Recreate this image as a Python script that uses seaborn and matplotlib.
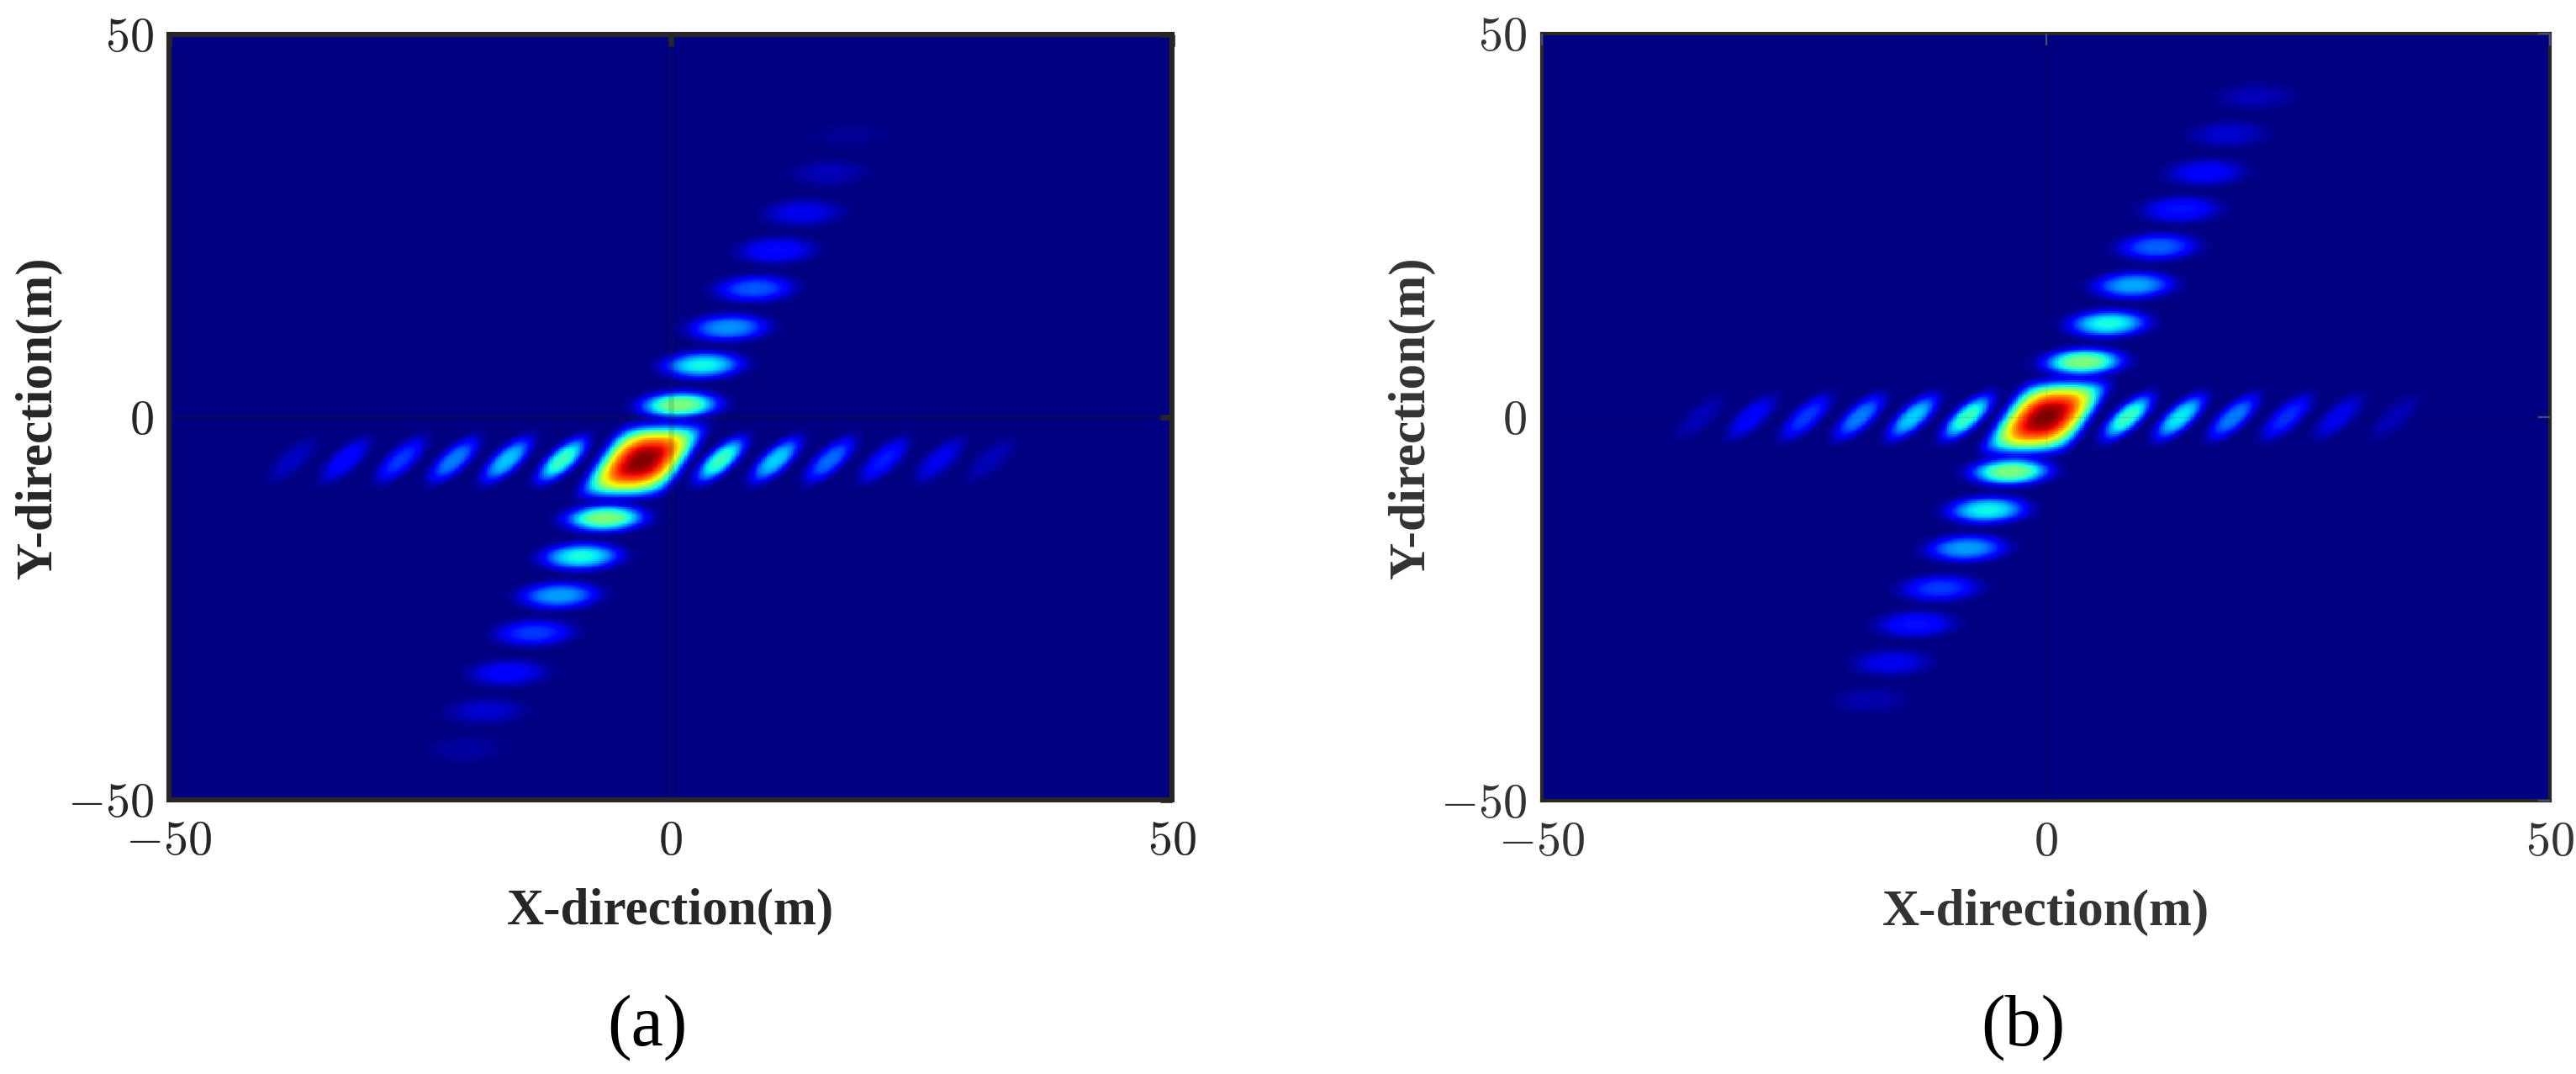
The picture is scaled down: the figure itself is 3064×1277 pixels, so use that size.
import numpy as np
import matplotlib
matplotlib.use("Agg")
import matplotlib.pyplot as plt
import seaborn as sns

# peak positions (m) and peak levels (0-1), one list per group of lobes.
# only the peaks are read values: the smooth shape around each peak is modelled in lobe_field()
tick_values = [-50, 0, 50]
tick_labels = ["$-50$", "$0$", "$50$"]
x_label = "X-direction(m)"
y_label = "Y-direction(m)"

a_main = [-2.8, -5.7, 1.0]
a_row_x = [-37.7, -32.4, -26.9, -21.6, -16.3, -10.8, 5.0, 10.5, 15.9, 21.3, 26.8, 31.9]
a_row_y = [-5.6, -5.6, -5.6, -5.6, -5.6, -5.6, -5.6, -5.6, -5.6, -5.6, -5.6, -5.6]
a_row_amp = [0.06, 0.13, 0.18, 0.25, 0.32, 0.42, 0.42, 0.33, 0.23, 0.15, 0.10, 0.05]
a_arm_x = [-20.4, -18.4, -16.2, -13.6, -11.1, -8.9, -6.5, 0.9, 3.2, 5.8, 8.4, 10.6, 13.2, 15.8, 17.8]
a_arm_y = [-43.4, -38.4, -33.4, -28.2, -23.3, -18.2, -13.2, 1.6, 6.8, 11.7, 16.8, 21.8, 26.7, 31.9, 36.8]
a_arm_amp = [0.03, 0.07, 0.12, 0.18, 0.28, 0.38, 0.50, 0.50, 0.37, 0.27, 0.21, 0.13, 0.10, 0.05, 0.02]

b_main = [0.0, 0.0, 1.0]
b_row_x = [-34.3, -29.2, -23.8, -18.5, -13.2, -7.8, 8.1, 13.3, 18.6, 23.9, 29.0, 34.6]
b_row_y = [0.0, 0.0, 0.0, 0.0, 0.0, 0.0, 0.0, 0.0, 0.0, 0.0, 0.0, 0.0]
b_row_amp = [0.05, 0.12, 0.18, 0.25, 0.33, 0.42, 0.42, 0.36, 0.25, 0.17, 0.10, 0.05]
b_arm_x = [-17.5, -15.3, -12.9, -10.5, -7.9, -5.8, -3.5, 3.7, 6.2, 8.7, 11.1, 13.4, 15.9, 18.1, 20.7]
b_arm_y = [-36.9, -32.0, -27.0, -22.3, -17.1, -12.1, -7.1, 7.2, 12.2, 17.2, 22.2, 27.1, 31.9, 36.9, 41.8]
b_arm_amp = [0.04, 0.10, 0.14, 0.18, 0.28, 0.37, 0.50, 0.50, 0.38, 0.29, 0.22, 0.14, 0.12, 0.07, 0.05]

N = 500
grid = (np.arange(N) + 0.5) / N * 100 - 50
gx, gy = np.meshgrid(grid, grid[::-1])


def lobe(x0, y0, amp, a, b, p, shear):
    u = (gx - x0) - shear * (gy - y0)
    v = gy - y0
    return amp * np.exp(-np.abs(u / a) ** p - np.abs(v / b) ** p)


def round_lobe(x0, y0, amp, a, b, p, shear):
    u = (gx - x0) - shear * (gy - y0)
    v = gy - y0
    return amp * np.exp(-np.sqrt((u / a) ** 2 + (v / b) ** 2) ** p)


def lobe_field(main, row_x, row_y, row_amp, arm_x, arm_y, arm_amp):
    # main lobe: soft core with a sharper cut at the edge, so the dark gap around it stays open
    z = lobe(main[0], main[1], main[2], 4.3, 4.6, 2.5, 0.5) * lobe(main[0], main[1], 1, 4.6, 4.9, 8, 0.5)
    for x0, y0, amp in zip(row_x, row_y, row_amp):
        z = z + round_lobe(x0, y0, amp, 1.55, 2.7, 3, 0.62)
    for x0, y0, amp in zip(arm_x, arm_y, arm_amp):
        z = z + round_lobe(x0, y0, amp, 3.6, 1.6, 3, 0.2)
    return np.clip(z, 0, 1)


def to_cell(v):
    return (v + 50) / 100 * N


def draw_panel(ax, z, spine_w, tick_w, tick_color, grid_w, grid_alpha, text_color):
    sns.heatmap(z, ax=ax, cmap="jet", vmin=0, vmax=1, cbar=False,
                xticklabels=False, yticklabels=False, rasterized=True)
    for s in ax.spines.values():
        s.set_visible(True)
        s.set_linewidth(spine_w)
        s.set_color("#262626")
    ax.set_xticks([to_cell(v) for v in tick_values])
    ax.set_yticks([to_cell(-v) for v in tick_values])
    ax.set_xticklabels(tick_labels, rotation=0)
    ax.set_yticklabels(tick_labels, rotation=0)
    ax.tick_params(axis="x", direction="in", top=True, length=5, width=tick_w, color=tick_color,
                   labelsize=21, pad=9, labelcolor=text_color)
    ax.tick_params(axis="y", direction="in", right=True, length=5, width=tick_w, color=tick_color,
                   labelsize=21, pad=6.5, labelcolor=text_color)
    ax.grid(True, color="#262626", linewidth=grid_w, alpha=grid_alpha)
    ax.set_axisbelow(False)
    ax.set_xlabel(x_label, fontsize=22, fontweight="bold", color=text_color, labelpad=10)
    ax.set_ylabel(y_label, fontsize=22, fontweight="bold", color=text_color, labelpad=2)


sns.set_style("white")
plt.rcParams["font.family"] = ["Liberation Serif", "DejaVu Serif"]
plt.rcParams["mathtext.fontset"] = "cm"

W, H = 3064, 1277
fig = plt.figure(figsize=(W / 200, H / 200), dpi=200)
fig.patch.set_facecolor("white")

ax_a = fig.add_axes([201 / W, 1 - 951 / H, (1394 - 201) / W, (951 - 41) / H])
ax_b = fig.add_axes([1834 / W, 1 - 952 / H, (3033 - 1834) / W, (952 - 40) / H])

draw_panel(ax_a, lobe_field(a_main, a_row_x, a_row_y, a_row_amp, a_arm_x, a_arm_y, a_arm_amp),
           2.2, 2.4, "#262626", 2.4, 0.15, "#262626")
draw_panel(ax_b, lobe_field(b_main, b_row_x, b_row_y, b_row_amp, b_arm_x, b_arm_y, b_arm_amp),
           1.5, 0.8, "#4a4a80", 0.5, 0.12, "#333333")

fig.text(770 / W, 1 - 1222 / H, "(a)", fontsize=31, color="black", ha="center", va="center")
fig.text(2406 / W, 1 - 1222 / H, "(b)", fontsize=31, color="black", ha="center", va="center")

fig.savefig("out.png", dpi=200)
plt.close(fig)
